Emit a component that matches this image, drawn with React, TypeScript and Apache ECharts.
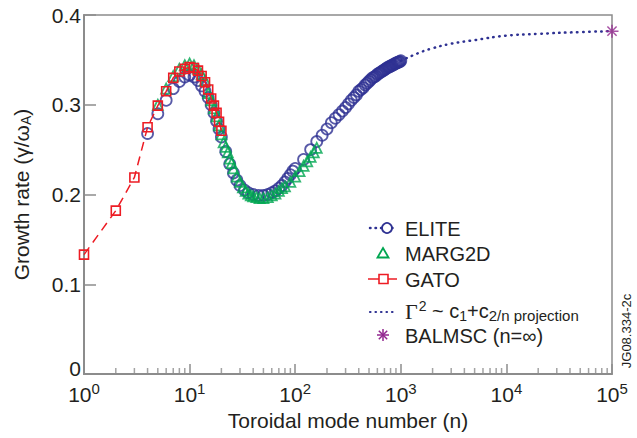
import React, { useEffect, useRef } from "react";
import * as echarts from "echarts";

// ---------- data ----------
const ELITE_N = [4, 5, 6, 7, 8, 9, 10, 11, 12, 13, 14, 15, 16, 17, 18, 19, 20, 22, 24, 26, 28, 30, 33, 36, 40, 45, 50, 55, 60, 65, 70, 75, 80, 85, 90, 95, 100, 120, 140, 160, 180, 200, 220, 240, 260, 280, 300, 320, 340, 360, 380, 400, 420, 440, 460, 480, 500, 520, 540, 560, 580, 600, 620, 640, 660, 680, 700, 720, 740, 760, 780, 800, 820, 840, 860, 880, 900, 920, 940, 960, 980, 1000];
const ELITE_G = [0.268, 0.290, 0.305, 0.318, 0.326, 0.331, 0.333, 0.331, 0.327, 0.321, 0.315, 0.308, 0.300, 0.291, 0.282, 0.273, 0.264, 0.248, 0.234, 0.224, 0.216, 0.210, 0.205, 0.202, 0.200, 0.199, 0.199, 0.200, 0.202, 0.204, 0.207, 0.210, 0.214, 0.218, 0.222, 0.226, 0.229, 0.239, 0.250, 0.259, 0.266, 0.273, 0.280, 0.285, 0.289, 0.293, 0.297, 0.301, 0.305, 0.308, 0.311, 0.315, 0.317, 0.319, 0.322, 0.324, 0.326, 0.328, 0.330, 0.331, 0.332, 0.334, 0.335, 0.336, 0.337, 0.338, 0.339, 0.340, 0.341, 0.342, 0.342, 0.343, 0.344, 0.344, 0.345, 0.346, 0.346, 0.347, 0.347, 0.348, 0.348, 0.349];

const MARG_N = [5, 6, 7, 8, 9, 10, 11, 12, 13, 14, 15, 16, 17, 18, 19, 20, 21, 22, 23, 24, 25, 26, 28, 30, 32, 34, 36, 38, 40, 43, 46, 50, 55, 60, 65, 70, 75, 80, 90, 100, 110, 120, 130, 140, 150, 160];
const MARG_G = [0.300, 0.318, 0.332, 0.340, 0.344, 0.346, 0.344, 0.340, 0.334, 0.327, 0.313, 0.305, 0.296, 0.287, 0.277, 0.267, 0.258, 0.253, 0.247, 0.240, 0.235, 0.229, 0.220, 0.214, 0.208, 0.204, 0.201, 0.199, 0.198, 0.197, 0.196, 0.196, 0.197, 0.199, 0.201, 0.204, 0.207, 0.209, 0.214, 0.220, 0.226, 0.232, 0.237, 0.242, 0.247, 0.252];

const GATO_N = [1, 2, 3, 4, 5, 6, 7, 8, 9, 10, 11, 12, 13, 14, 15, 16, 17, 18, 19, 20];
const GATO_G = [0.133, 0.182, 0.219, 0.275, 0.299, 0.315, 0.330, 0.337, 0.340, 0.342, 0.341, 0.338, 0.332, 0.325, 0.317, 0.307, 0.299, 0.291, 0.281, 0.271];

const PROJ_N = [1000, 1500, 2000, 3000, 5000, 10000, 20000, 50000, 100000];
const PROJ_G = [0.349, 0.358, 0.363, 0.368, 0.372, 0.377, 0.379, 0.381, 0.382];

const BALMSC_N = [100000];
const BALMSC_G = [0.382];

const MINOR_TICKS = [2, 3, 4, 5, 6, 7, 8, 9, 20, 30, 40, 50, 60, 70, 80, 90, 200, 300, 400, 500, 600, 700, 800, 900, 2000, 3000, 4000, 5000, 6000, 7000, 8000, 9000, 20000, 30000, 40000, 50000, 60000, 70000, 80000, 90000];

const Y_TICKS_MIN = 0;
const Y_TICKS_MAX = 0.4;
const Y_TICKS_STEP = 0.1;

// ---------- styles ----------
const NAVY = "#2e3192";
const GREEN = "#00a651";
const RED = "#ed1c24";
const PURPLE = "#92278f";
const GREY = "#8c8c8c";
const INK = "#231f20";
const FONT = "'Liberation Sans', Arial, sans-serif";

const zip = (xs: number[], ys: number[]) => xs.map((x, i) => [x, ys[i]]);

const ASTERISK = "path://M5,0 L5,10 M0,5 L10,5 M1.46,1.46 L8.54,8.54 M1.46,8.54 L8.54,1.46";

export default function App() {
  const ref = useRef<HTMLDivElement>(null);

  useEffect(() => {
    if (!ref.current) return;
    const chart = echarts.init(ref.current, undefined, { renderer: "svg" });

    const lx = 370;
    const tx = 405;
    const rows = [228, 253, 279, 311, 335];
    const textStyle = { fill: INK, fontSize: 20, fontFamily: FONT, verticalAlign: "middle" };

    const graphic: any[] = [
      // ELITE
      { type: "line", shape: { x1: lx, y1: rows[0], x2: lx + 27, y2: rows[0] }, style: { stroke: NAVY, lineWidth: 2.5, lineDash: [0.5, 5], lineCap: "round" } },
      { type: "circle", shape: { cx: lx + 17, cy: rows[0], r: 5 }, style: { stroke: NAVY, fill: "#fff", lineWidth: 1.8 } },
      { type: "text", x: tx, y: rows[0] + 1, style: { ...textStyle, text: "ELITE" } },
      // MARG2D
      { type: "polygon", shape: { points: [[lx + 13, rows[1] - 5], [lx + 18.5, rows[1] + 4.5], [lx + 7.5, rows[1] + 4.5]] }, style: { stroke: GREEN, fill: "none", lineWidth: 1.8 } },
      { type: "text", x: tx, y: rows[1] + 1, style: { ...textStyle, text: "MARG2D" } },
      // GATO
      { type: "line", shape: { x1: lx - 2, y1: rows[2], x2: lx + 27, y2: rows[2] }, style: { stroke: RED, lineWidth: 1.5 } },
      { type: "rect", shape: { x: lx + 9, y: rows[2] - 4.5, width: 9, height: 9 }, style: { stroke: RED, fill: "#fff", lineWidth: 1.6 } },
      { type: "text", x: tx, y: rows[2] + 1, style: { ...textStyle, text: "GATO" } },
      // projection
      { type: "line", shape: { x1: lx, y1: rows[3] + 1, x2: lx + 27, y2: rows[3] + 1 }, style: { stroke: NAVY, lineWidth: 2.2, lineDash: [0.5, 5], lineCap: "round" } },
      {
        type: "text",
        x: tx,
        y: rows[3],
        style: {
          text: "{g|Γ}{sup|2}{n| ~ c}{sub|1}{n|+c}{sub2|2/n projection}",
          fill: INK,
          fontFamily: FONT,
          verticalAlign: "middle",
          rich: {
            g: { fontFamily: "'Liberation Serif', serif", fontSize: 22, fill: INK },
            sup: { fontSize: 14, fontFamily: FONT, fill: INK, padding: [0, 0, 11, 1] },
            n: { fontSize: 20, fontFamily: FONT, fill: INK },
            sub: { fontSize: 14, fontFamily: FONT, fill: INK, padding: [9, 0, 0, 0] },
            sub2: { fontSize: 15, fontFamily: FONT, fill: INK, padding: [9, 0, 0, 0] },
          },
        },
      },
      // BALMSC
      { type: "line", shape: { x1: lx + 13, y1: rows[4] - 6, x2: lx + 13, y2: rows[4] + 6 }, style: { stroke: PURPLE, lineWidth: 1.5 } },
      { type: "line", shape: { x1: lx + 7, y1: rows[4], x2: lx + 19, y2: rows[4] }, style: { stroke: PURPLE, lineWidth: 1.5 } },
      { type: "line", shape: { x1: lx + 8.8, y1: rows[4] - 4.2, x2: lx + 17.2, y2: rows[4] + 4.2 }, style: { stroke: PURPLE, lineWidth: 1.5 } },
      { type: "line", shape: { x1: lx + 8.8, y1: rows[4] + 4.2, x2: lx + 17.2, y2: rows[4] - 4.2 }, style: { stroke: PURPLE, lineWidth: 1.5 } },
      { type: "text", x: tx, y: rows[4] + 1, style: { ...textStyle, text: "BALMSC (n=∞)" } },
      // side code
      { type: "text", x: 626, y: 331, rotation: Math.PI / 2, style: { text: "JG08.334-2c", fill: INK, fontSize: 13, fontFamily: FONT, align: "center", verticalAlign: "middle" } },
    ];

    const option: any = {
      animation: false,
      grid: { left: 84, right: 25, top: 15, bottom: 64, show: true, borderColor: GREY, borderWidth: 1.5, backgroundColor: "transparent" },
      xAxis: {
        type: "log",
        logBase: 10,
        min: 1,
        max: 100000,
        axisLine: { lineStyle: { color: GREY, width: 2 } },
        axisTick: { inside: true, length: 10, lineStyle: { color: GREY, width: 1.5 } },
        splitLine: { show: false },
        axisLabel: {
          margin: 7,
          formatter: (v: number) => `{b|10}{s|${Math.round(Math.log10(v))}}`,
          rich: {
            b: { fontSize: 21, fontFamily: FONT, color: INK },
            s: { fontSize: 15, fontFamily: FONT, color: INK, padding: [0, 0, 12, 0] },
          },
        },
        name: "Toroidal mode number (n)",
        nameLocation: "middle",
        nameGap: 30,
        nameTextStyle: { fontSize: 21, fontFamily: FONT, color: INK },
      },
      yAxis: {
        type: "value",
        min: Y_TICKS_MIN,
        max: Y_TICKS_MAX,
        interval: Y_TICKS_STEP,
        axisLine: { show: true, lineStyle: { color: GREY, width: 2 } },
        axisTick: { show: true, inside: true, length: 12, lineStyle: { color: GREY, width: 1.5 } },
        splitLine: { show: false },
        axisLabel: {
          margin: 3,
          fontSize: 21,
          fontFamily: FONT,
          color: INK,
          formatter: (v: number) => (v === 0 ? "{z|0}" : v.toFixed(1)),
          rich: {
            z: { fontSize: 21, fontFamily: FONT, color: INK, lineHeight: 16, padding: [0, 0, 12, 0] },
          },
        },
        name: "Growth rate (γ/ω{a|A})",
        nameLocation: "middle",
        nameGap: 51,
        nameTextStyle: {
          fontSize: 21,
          fontFamily: FONT,
          color: INK,
          rich: { a: { fontSize: 14, fontFamily: FONT, color: INK, padding: [10, 0, 0, 0] } },
        },
      },
      graphic,
      series: [
        {
          name: "minor",
          type: "scatter",
          silent: true,
          data: MINOR_TICKS.map((n) => [n, 0]),
          symbol: "rect",
          symbolSize: [1.5, 6],
          symbolOffset: [0, -3],
          itemStyle: { color: GREY },
          z: 1,
        },
        {
          name: "projection",
          type: "line",
          data: zip(PROJ_N, PROJ_G),
          showSymbol: false,
          smooth: true,
          lineStyle: { color: NAVY, width: 2.5, type: [0.5, 5.5], cap: "round" },
          z: 2,
        },
        {
          name: "ELITE",
          type: "scatter",
          data: zip(ELITE_N, ELITE_G),
          symbol: "circle",
          symbolSize: 11,
          itemStyle: { color: "rgba(0,0,0,0)", borderColor: NAVY, borderWidth: 1.8 },
          z: 3,
        },
        {
          name: "MARG2D",
          type: "scatter",
          data: zip(MARG_N, MARG_G),
          symbol: "triangle",
          symbolSize: 10,
          itemStyle: { color: "rgba(0,0,0,0)", borderColor: GREEN, borderWidth: 1.8 },
          z: 4,
        },
        {
          name: "GATO",
          type: "line",
          data: zip(GATO_N, GATO_G),
          symbol: "rect",
          symbolSize: 9,
          showAllSymbol: true,
          lineStyle: { color: RED, width: 1.5, type: [9, 6] },
          itemStyle: { color: "rgba(0,0,0,0)", borderColor: RED, borderWidth: 1.6 },
          z: 5,
        },
        {
          name: "BALMSC",
          type: "scatter",
          data: zip(BALMSC_N, BALMSC_G),
          symbol: ASTERISK,
          symbolSize: 13,
          itemStyle: { color: "rgba(0,0,0,0)", borderColor: PURPLE, borderWidth: 1.5 },
          clip: false,
          z: 6,
        },
      ],
    };

    chart.setOption(option);
    return () => chart.dispose();
  }, []);

  return (
    <div
      ref={ref}
      style={{ position: "fixed", left: 0, top: 0, width: 637, height: 438, background: "#fff" }}
    />
  );
}
